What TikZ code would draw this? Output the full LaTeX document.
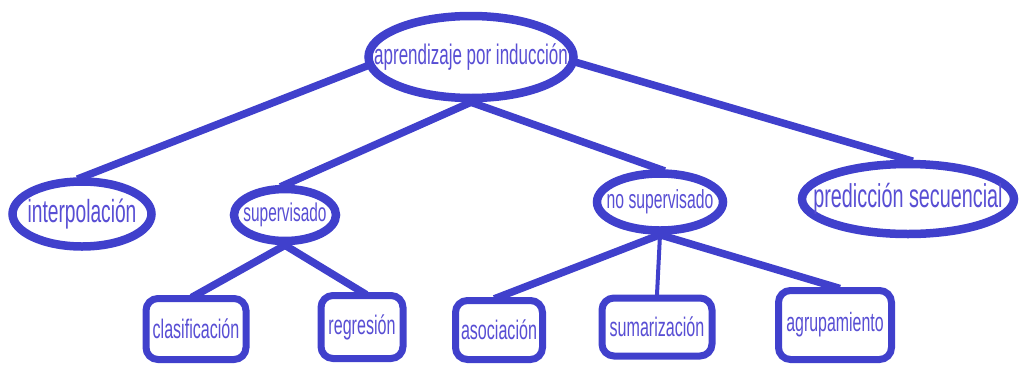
\documentclass[tikz,border=0pt]{standalone}
\usepackage{fontspec}
\setmainfont{Liberation Sans}[FakeStretch=0.6]
\usetikzlibrary{shapes.geometric,backgrounds}
\definecolor{edgeblue}{RGB}{64,64,204}
\definecolor{labelblue}{RGB}{88,78,212}
\begin{document}
\begin{tikzpicture}[x=1pt,y=-1pt,
  concept/.style={ellipse, draw=edgeblue, line width=8.5pt, fill=white, inner sep=0pt},
  leaf/.style={rectangle, rounded corners=12pt, draw=edgeblue, line width=7pt, fill=white, inner sep=0pt},
  link/.style={draw=edgeblue, line width=7.5pt, shorten <=-5pt, shorten >=-5pt},
  thinlink/.style={draw=edgeblue, line width=4pt, shorten <=-5pt, shorten >=-5pt},
  fs/.style={font=\fontsize{#1}{#1}\selectfont, text=labelblue}]
\useasboundingbox (0,0) rectangle (1020,365);

% concept ellipses
\node[concept, minimum width=205pt, minimum height=82pt, fs=28.3] (root) at (471,57) {\makebox[0pt]{\raisebox{-4pt}{aprendizaje por inducción}}};
\node[concept, minimum width=139pt, minimum height=65pt, fs=32] (interp) at (82,214) {\makebox[0pt]{interpolación}};
\node[concept, minimum width=102pt, minimum height=52pt, fs=25.7] (superv) at (285,215) {\makebox[0pt]{supervisado}};
\node[concept, minimum width=126pt, minimum height=57pt, fs=26.2] (nosup) at (660,202) {\makebox[0pt]{no supervisado}};
\node[concept, minimum width=212pt, minimum height=70pt, fs=33] (pred) at (908,199) {\makebox[0pt]{predicción secuencial}};

% leaf boxes
\node[leaf, minimum width=100pt, minimum height=61pt, fs=26.8] (clas) at (196,329) {clasificación};
\node[leaf, minimum width=82pt, minimum height=63pt, fs=26.8] (regr) at (362,327) {regresión};
\node[leaf, minimum width=87pt, minimum height=59pt, fs=26.8] (asoc) at (499,330) {asociación};
\node[leaf, minimum width=110pt, minimum height=58pt, fs=26.8] (sumar) at (657,327) {sumarización};
\node[leaf, minimum width=113pt, minimum height=69pt, fs=26.5] (agrup) at (835,325) {agrupamiento};

% connectors behind the shapes
\begin{scope}[on background layer]
  \draw[link] (root.185) -- (interp.north);
  \draw[link] (root.south) -- (superv.north);
  \draw[link] (root.south) -- (nosup.north);
  \draw[link] (root.357) -- (pred.north);
  \draw[link] (superv.south) -- (clas.north);
  \draw[link] (superv.south) -- (regr.north);
  \draw[link] (nosup.south) -- (asoc.north);
  \draw[thinlink] (nosup.south) -- (sumar.north);
  \draw[link] (nosup.south) -- (agrup.north);
\end{scope}
\end{tikzpicture}
\end{document}
